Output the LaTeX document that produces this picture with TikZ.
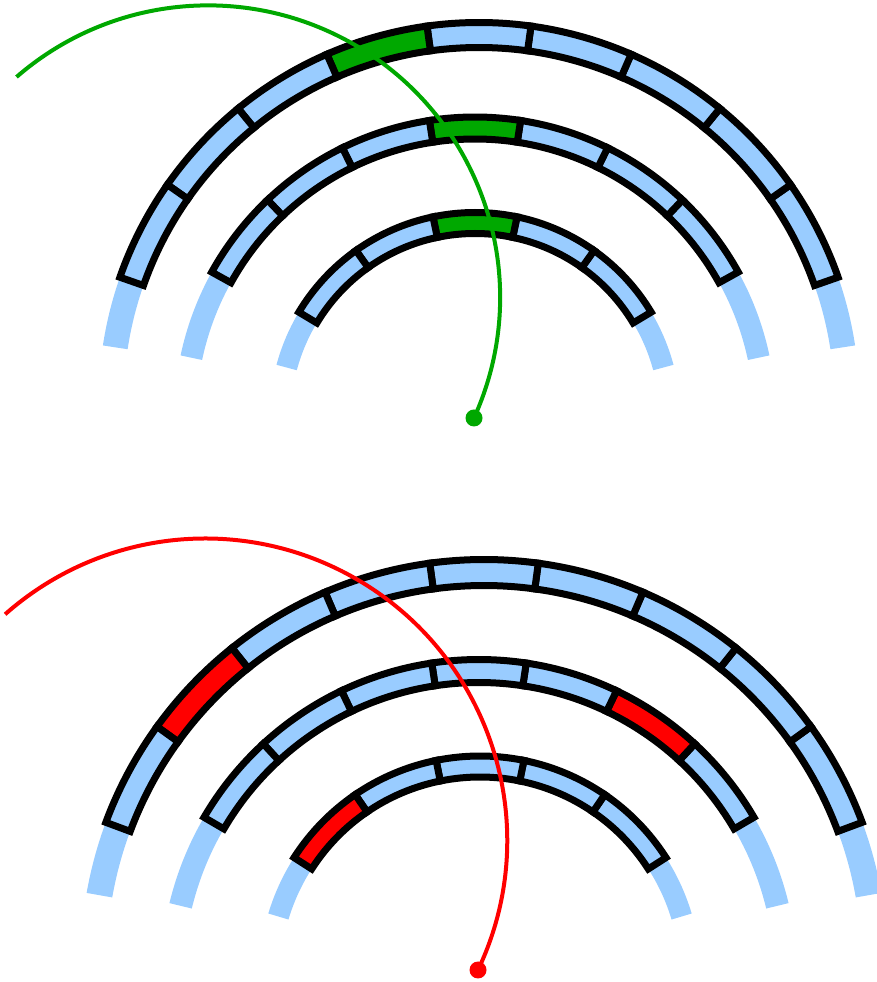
\documentclass[tikz,border=0pt]{standalone}
\definecolor{ringblue}{RGB}{153,204,255}
\definecolor{hitgreen}{RGB}{0,168,0}
\definecolor{hitred}{RGB}{255,0,0}
\tikzset{
  band/.style={fill=ringblue},
  cell/.style={draw=black, line width=7pt, line join=miter},
  track/.style={line width=4pt},
  vertex/.style={circle, inner sep=0pt, minimum size=17pt},
}
% annular sector: start angle, end angle, inner radius, outer radius
\newcommand\sector[4]{({#1}:{#4}) arc[start angle={#1}, end angle={#2}, radius={#4}]
  -- ({#2}:{#3}) arc[start angle={#2}, end angle={#1}, radius={#3}] -- cycle}
% centre, mid radius, width, half span of cells, cells, half span of band, hit cell, hit colour
\newcommand\detlayer[8]{%
  \begin{scope}[shift={(#1)}]
    \fill[band] \sector{90-#6}{90+#6}{#2-#3/2}{#2+#3/2};
    \foreach \k [evaluate=\k as \a using 90-#4+2*#4*(\k-1)/#5,
                 evaluate=\k as \b using 90-#4+2*#4*\k/#5] in {1,...,#5}{
      \ifnum\k=#7 \def\cellfill{#8}\else\def\cellfill{ringblue}\fi
      \draw[cell, fill=\cellfill] \sector{\a}{\b}{#2-#3/2}{#2+#3/2};
    }
  \end{scope}}
\begin{document}
\begin{tikzpicture}[x=1pt,y=1pt]
\useasboundingbox (0,0) rectangle (876,982);
% upper event
\detlayer{479,579}{368}{25}{70.7}{9}{81.3}{6}{hitgreen}
\detlayer{475,564}{290}{22}{61}{7}{78}{4}{hitgreen}
\detlayer{475,564}{195}{21}{59}{5}{75}{3}{hitgreen}
\node[vertex, fill=hitgreen] (vtxA) at (474,564) {};
\draw[track, hitgreen] (vtxA.center) arc[start angle=-24.4, end angle=131, radius=292];
% lower event
\detlayer{484,19}{390.5}{26}{69.6}{9}{80}{8}{hitred}
\detlayer{479,4}{307}{23}{59.7}{7}{76.4}{2}{hitred}
\detlayer{480,5}{210.5}{21}{57.3}{5}{73.3}{5}{hitred}
\node[vertex, fill=hitred] (vtxB) at (478,12) {};
\draw[track, hitred] (vtxB.center) arc[start angle=-25.4, end angle=131.5, radius=302];
\end{tikzpicture}
\end{document}
